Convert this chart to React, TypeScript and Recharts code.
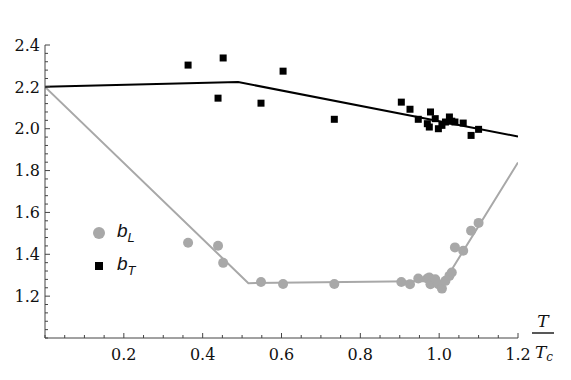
import { ComposedChart, Legend, Line, Scatter, XAxis, YAxis } from 'recharts'

// T / Tc for each measurement (shared by both series)
const tempRatio = [
  0.363, 0.439, 0.452, 0.548, 0.604, 0.734, 0.904, 0.926, 0.947, 0.97, 0.975,
  0.978, 0.99, 0.998, 1.007, 1.016, 1.026, 1.032, 1.04, 1.061, 1.081, 1.1,
]
const bL = [
  1.455, 1.441, 1.359, 1.268, 1.258, 1.258, 1.268, 1.257, 1.284, 1.284, 1.289,
  1.257, 1.281, 1.257, 1.236, 1.273, 1.297, 1.313, 1.433, 1.417, 1.513, 1.55,
]
const bT = [
  2.304, 2.146, 2.338, 2.122, 2.275, 2.045, 2.127, 2.093, 2.045, 2.024, 2.008,
  2.08, 2.048, 2.0, 2.016, 2.032, 2.056, 2.036, 2.032, 2.027, 1.968, 1.997,
]

// piecewise fits drawn as lines
const fitTX = [0, 0.49, 1.2]
const fitTY = [2.2, 2.223, 1.963]
const fitLX = [0, 0.516, 0.99, 1.005, 1.2]
const fitLY = [2.2, 1.262, 1.272, 1.245, 1.839]

const xMajor = [0.2, 0.4, 0.6, 0.8, 1.0, 1.2]
const yMajor = [1.2, 1.4, 1.6, 1.8, 2.0, 2.2, 2.4]

const xTicks = Array.from({ length: 25 }, (_, i) => Number((i * 0.05).toFixed(2)))
const yTicks = Array.from({ length: 36 }, (_, i) => Number((1 + i * 0.04).toFixed(2)))

const SERIF = { fontFamily: "'DejaVu Serif', serif" }
const AXIS = '#444'
const GRAY = '#a8a8a8'

const lData = tempRatio.map((t, i) => ({ x: t, y: bL[i] }))
const tData = tempRatio.map((t, i) => ({ x: t, y: bT[i] }))
const fitT = fitTX.map((x, i) => ({ x, y: fitTY[i] }))
const fitL = fitLX.map((x, i) => ({ x, y: fitLY[i] }))

function XTick({ x, y, payload }: any) {
  const major = xMajor.includes(payload.value)
  return (
    <g>
      <line x1={x} x2={x} y1={y} y2={y - (major ? 5 : 3)} stroke={AXIS} />
      {major && (
        <text x={x} y={y + 22} textAnchor="middle" style={SERIF} fontSize={16} fill="#111">
          {payload.value.toFixed(1)}
        </text>
      )}
    </g>
  )
}

function YTick({ x, y, payload }: any) {
  const major = yMajor.includes(payload.value)
  return (
    <g>
      <line x1={x} x2={x + (major ? 5 : 3)} y1={y} y2={y} stroke={AXIS} />
      {major && (
        <text x={x - 5} y={y} dy="0.36em" textAnchor="end" style={SERIF} fontSize={16} fill="#111">
          {payload.value.toFixed(1)}
        </text>
      )}
    </g>
  )
}

function AxisTitle({ viewBox }: any) {
  const cx = viewBox.x + viewBox.width + 25
  const top = viewBox.y
  const t = { ...SERIF, fontStyle: 'italic' }
  return (
    <g fontSize={17} fill="#111">
      <text x={cx} y={top - 11} textAnchor="middle" style={t}>T</text>
      <line x1={cx - 11} x2={cx + 11} y1={top - 5} y2={top - 5} stroke="#111" strokeWidth={1.4} />
      <text x={cx + 1} y={top + 20} textAnchor="middle" style={t}>
        T<tspan fontSize={12} dy={3}>c</tspan>
      </text>
    </g>
  )
}

function LegendBox() {
  const label = { fontFamily: 'Liberation Sans', fontStyle: 'italic', fontSize: 19, color: '#111' }
  const row = { display: 'flex', alignItems: 'center', height: 33 }
  return (
    <div>
      <div style={row}>
        <svg width={34} height={20}>
          <circle cx={16} cy={10} r={6} fill={GRAY} />
        </svg>
        <span style={label}>
          b<sub style={{ fontSize: 13 }}>L</sub>
        </span>
      </div>
      <div style={row}>
        <svg width={34} height={20}>
          <rect x={12} y={6} width={8} height={8} fill="#000" />
        </svg>
        <span style={label}>
          b<sub style={{ fontSize: 13 }}>T</sub>
        </span>
      </div>
    </div>
  )
}

export default function App() {
  return (
    <div style={{ position: 'absolute', left: 0, top: 0, background: '#fff' }}>
      <ComposedChart width={571} height={380} margin={{ top: 45, right: 53, bottom: 0, left: 0 }}>
        <XAxis
          type="number"
          dataKey="x"
          domain={[0, 1.2]}
          ticks={xTicks}
          interval={0}
          height={42}
          tickSize={0}
          tickMargin={0}
          tickLine={false}
          axisLine={{ stroke: AXIS }}
          tick={<XTick />}
          label={<AxisTitle />}
          allowDataOverflow
        />
        <YAxis
          type="number"
          dataKey="y"
          domain={[1.0, 2.4]}
          ticks={yTicks}
          interval={0}
          width={45}
          tickSize={0}
          tickMargin={0}
          tickLine={false}
          axisLine={{ stroke: AXIS }}
          tick={<YTick />}
          allowDataOverflow
        />
        <Legend
          layout="horizontal"
          align="center"
          verticalAlign="middle"
          content={<LegendBox />}
          wrapperStyle={{ position: 'absolute', left: 83, top: 216, width: 'auto' }}
        />
        <Line data={fitL} dataKey="y" type="linear" stroke={GRAY} strokeWidth={2} dot={false} isAnimationActive={false} legendType="none" />
        <Line data={fitT} dataKey="y" type="linear" stroke="#000" strokeWidth={2} dot={false} isAnimationActive={false} legendType="none" />
        <Scatter
          data={lData}
          dataKey="y"
          isAnimationActive={false}
          shape={(p: any) => <circle cx={p.cx} cy={p.cy} r={5} fill={GRAY} />}
        />
        <Scatter
          data={tData}
          dataKey="y"
          isAnimationActive={false}
          shape={(p: any) => <rect x={p.cx - 3.5} y={p.cy - 3.5} width={7} height={7} fill="#000" />}
        />
      </ComposedChart>
    </div>
  )
}
